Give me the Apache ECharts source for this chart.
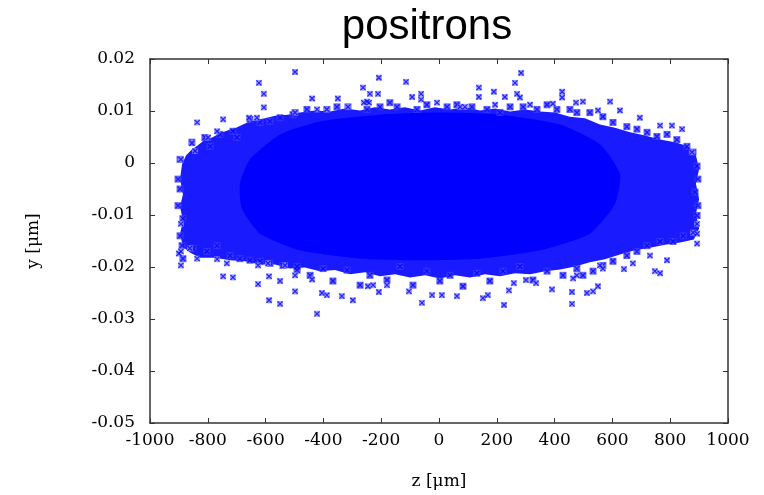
<!DOCTYPE html>
<html><head><meta charset="utf-8">
<script src="https://cdn.jsdelivr.net/npm/echarts@6/dist/echarts.min.js"></script>
<style>html,body{margin:0;padding:0;background:#fff}#c{width:764px;height:495px}</style>
</head><body><div id="c"></div>
<script>
// Axis ranges
const zRange = [-1000, 1000, 200];
const yRange = [-0.05, 0.02, 0.01];

// Outer envelope of the particle cloud (ragged region), [z, y]
const cloudOuter = [
  [-889, -0.0002], [-875, 0.0015], [-855, 0.0026], [-834, 0.0034], [-810, 0.0045],
  [-785, 0.0049], [-758, 0.0057], [-730, 0.0063], [-702, 0.0068], [-671, 0.0076],
  [-637, 0.0082], [-602, 0.0086], [-567, 0.0091], [-523, 0.0093], [-481, 0.0097],
  [-429, 0.0101], [-377, 0.0099], [-325, 0.0105], [-273, 0.0101], [-222, 0.0107],
  [-170, 0.0103], [-118, 0.0107], [-66, 0.0101], [-14, 0.0107], [38, 0.0103],
  [90, 0.0107], [142, 0.0101], [194, 0.0105], [246, 0.0099], [298, 0.0103],
  [349, 0.0099], [401, 0.0097], [453, 0.0089], [505, 0.0086], [557, 0.0074],
  [609, 0.0068], [661, 0.0059], [713, 0.0053], [765, 0.0045], [817, 0.0040],
  [861, 0.0032], [889, 0.0015],
  [900, -0.0012], [889, -0.0040], [900, -0.0069], [889, -0.0098], [900, -0.0126], [882, -0.0147],
  [834, -0.0153], [782, -0.0157], [730, -0.0163], [678, -0.0168], [626, -0.0176],
  [574, -0.0185], [522, -0.0191], [471, -0.0199], [419, -0.0205], [367, -0.0208],
  [315, -0.0214], [263, -0.0212], [211, -0.0218], [159, -0.0214], [107, -0.0220],
  [55, -0.0216], [3, -0.0222], [-48, -0.0216], [-100, -0.0220], [-152, -0.0214],
  [-204, -0.0218], [-256, -0.0210], [-308, -0.0214], [-360, -0.0206], [-412, -0.0208],
  [-464, -0.0201], [-516, -0.0203], [-567, -0.0195], [-619, -0.0195], [-671, -0.0189],
  [-723, -0.0187], [-775, -0.0182], [-827, -0.0182], [-862, -0.0172], [-886, -0.0161],
  [-896, -0.0136], [-886, -0.0111], [-896, -0.0084], [-886, -0.0060], [-896, -0.0031]
];

// Saturated core of the cloud, [z, y]
const cloudCore = [
  [-689, -0.0040], [-654, 0.0007], [-550, 0.0055], [-412, 0.0080], [-204, 0.0093],
  [3, 0.0097], [211, 0.0093], [419, 0.0074], [557, 0.0036], [626, -0.0021],
  [609, -0.0079], [522, -0.0136], [349, -0.0168], [142, -0.0184], [-66, -0.0187],
  [-273, -0.0184], [-481, -0.0168], [-619, -0.0136], [-682, -0.0088]
];

// Isolated particles around the cloud, [z, y]
const particles = [
  [-498, 0.0175], [-623, 0.0154], [-606, 0.0133], [-606, 0.0107], [-439, 0.0124],
  [-350, 0.0124], [-208, 0.0164], [-114, 0.0156], [-263, 0.0145], [-239, 0.0133],
  [-211, 0.0133], [-249, 0.0118], [-62, 0.0133], [-62, 0.0122], [-93, 0.0127],
  [-837, 0.0078], [-747, 0.0084], [-799, 0.0049], [-855, 0.0038], [-893, 0.0007],
  [-844, 0.0023], [-657, 0.0087], [-630, 0.0087], [-498, 0.0097], [-422, 0.0103],
  [-388, 0.0103], [-768, 0.0061], [-260, 0.0116], [-242, 0.0116], [-315, 0.0108],
  [-7, 0.0116], [73, 0.0108], [90, 0.0108], [194, 0.0112], [315, 0.0112],
  [394, 0.0114], [474, 0.0116], [284, 0.0173], [263, 0.0154], [138, 0.0145],
  [138, 0.0127], [190, 0.0137], [426, 0.0137], [426, 0.0126], [592, 0.0118],
  [498, 0.0118], [626, 0.0101], [695, 0.0087], [550, 0.0101], [228, 0.0127],
  [270, 0.0133], [280, 0.0126], [765, 0.0072], [806, 0.0072], [841, 0.0065],
  [875, 0.0021],
  [893, -0.0117], [893, -0.0136], [893, -0.0155], [879, -0.0134],
  [789, -0.0187], [747, -0.0208], [765, -0.0212], [640, -0.0204], [671, -0.0193],
  [730, -0.0178], [550, -0.0237], [533, -0.0247], [512, -0.0250], [460, -0.0271],
  [460, -0.0248], [464, -0.0222], [477, -0.0216], [557, -0.0197], [567, -0.0203],
  [391, -0.0243], [336, -0.0231], [301, -0.0225], [259, -0.0231], [242, -0.0245],
  [225, -0.0273], [152, -0.0260], [169, -0.0254], [62, -0.0256], [-24, -0.0254],
  [10, -0.0254], [-59, -0.0269], [-104, -0.0247], [-180, -0.0235], [-208, -0.0248],
  [-246, -0.0237], [-228, -0.0235], [-298, -0.0264], [-336, -0.0256], [-405, -0.0250],
  [-388, -0.0254], [-422, -0.0290], [-439, -0.0224], [-498, -0.0216], [-498, -0.0247],
  [-550, -0.0227], [-588, -0.0218], [-588, -0.0264], [-550, -0.0271], [-626, -0.0233],
  [-533, -0.0197], [-592, -0.0193], [-626, -0.0197], [-747, -0.0218], [-713, -0.0220],
  [-734, -0.0193], [-768, -0.0185], [-837, -0.0184], [-893, -0.0197], [-900, -0.0174],
  [-862, -0.0164], [-893, -0.0117], [-893, -0.0170]
];

// Dense particles along the ragged edge of the cloud, [z, y]
const edgeParticles = [
  [-498, 0.0097], [-457, 0.0103], [-388, 0.0103], [-353, 0.0108], [-315, 0.0108],
  [-249, 0.0103], [-204, 0.0108], [-170, 0.0116], [-145, 0.0108], [-76, 0.0103],
  [-42, 0.0112], [28, 0.0108], [62, 0.0112], [114, 0.0108], [166, 0.0103],
  [211, 0.0097], [246, 0.0108], [291, 0.0108], [339, 0.0103], [374, 0.0112],
  [408, 0.0103], [453, 0.0103], [477, 0.0097],
  [-491, -0.0199], [-446, -0.0216], [-401, -0.0203], [-367, -0.0227], [-318, -0.0206],
  [-273, -0.0235], [-239, -0.0216], [-180, -0.0225], [-135, -0.0199], [-90, -0.0235],
  [-42, -0.0208], [3, -0.0227], [38, -0.0216], [83, -0.0237], [131, -0.0212],
  [176, -0.0227], [221, -0.0208], [280, -0.0199], [325, -0.0225], [374, -0.0208],
  [429, -0.0216], [477, -0.0203],
  [-896, 0.0007], [-903, -0.0031], [-896, -0.0050], [-903, -0.0082], [-886, -0.0107],
  [-896, -0.0140], [-889, -0.0159], [-855, 0.0040], [-810, 0.0049], [-792, 0.0032],
  [-758, 0.0055], [-713, 0.0061], [-699, 0.0049], [-654, 0.0084], [-619, 0.0078],
  [-585, 0.0080], [-550, 0.0087], [-505, 0.0093], [-886, -0.0184], [-851, -0.0164],
  [-803, -0.0170], [-768, -0.0159], [-723, -0.0178], [-689, -0.0184], [-654, -0.0187],
  [-619, -0.0189], [-585, -0.0193], [-540, -0.0197], [-491, -0.0206],
  [893, -0.0006], [896, -0.0031], [886, -0.0056], [896, -0.0082], [893, -0.0101],
  [522, 0.0097], [567, 0.0089], [602, 0.0078], [650, 0.0070], [685, 0.0065],
  [720, 0.0059], [754, 0.0051], [789, 0.0055], [823, 0.0045], [858, 0.0032],
  [879, 0.0021], [845, -0.0140], [810, -0.0151], [765, -0.0151], [720, -0.0159],
  [685, -0.0170], [650, -0.0178], [602, -0.0189], [567, -0.0197], [533, -0.0208],
  [498, -0.0216]
];

const serif = 'DejaVu Serif';
const axisColor = '#333';

function polygonSeries(points, color, smooth) {
  return {
    type: 'custom',
    coordinateSystem: 'cartesian2d',
    xAxisIndex: 0, yAxisIndex: 0,
    data: points,
    encode: { x: 0, y: 1 },
    silent: true,
    animation: false,
    clip: true,
    renderItem: function (params, api) {
      if (params.dataIndexInside !== 0) return null;
      const pts = points.map(function (p) { return api.coord(p); });
      return { type: 'polygon', shape: { points: pts, smooth: smooth }, style: { fill: color } };
    }
  };
}

function particleSeries(points, size, fill) {
  return [{
    type: 'scatter', data: points, symbol: 'rect', symbolSize: size,
    itemStyle: { color: fill }, silent: true, animation: false
  }, {
    type: 'scatter', data: points, symbol: 'path://M0,0L10,10M10,0L0,10', symbolSize: 5,
    itemStyle: { color: 'none', borderColor: '#0000ff', borderWidth: 1.2 }, silent: true, animation: false
  }];
}

function fmtY(v) { return String(Math.round(v * 100) / 100); }
function fmtZ(v) { return String(v); }

const chart = echarts.init(document.getElementById('c'), null, { renderer: 'canvas' });
chart.setOption({
  backgroundColor: '#fff',
  animation: false,
  title: {
    text: 'positrons',
    left: 422, top: 1, textAlign: 'center',
    textStyle: { fontFamily: 'Liberation Sans', fontSize: 42, fontWeight: 'normal', color: '#000' }
  },
  grid: { left: 150, right: 36, top: 59, bottom: 70 },
  xAxis: [{
    type: 'value', min: zRange[0], max: zRange[1], interval: zRange[2], position: 'bottom',
    axisLine: { show: true, onZero: false, lineStyle: { color: axisColor, width: 1.5 } },
    axisTick: { show: true, inside: true, length: 5, lineStyle: { color: axisColor } },
    axisLabel: { fontFamily: serif, fontSize: 17, color: '#000', margin: 9, formatter: fmtZ },
    splitLine: { show: false },
    name: 'z [μm]', nameLocation: 'middle', nameGap: 50,
    nameTextStyle: { fontFamily: serif, fontSize: 17, color: '#000' }
  }, {
    type: 'value', min: zRange[0], max: zRange[1], interval: zRange[2], position: 'top',
    axisLine: { show: true, onZero: false, lineStyle: { color: axisColor, width: 1.5 } },
    axisTick: { show: true, inside: true, length: 5, lineStyle: { color: axisColor } },
    axisLabel: { show: false }, splitLine: { show: false }
  }],
  yAxis: [{
    type: 'value', min: yRange[0], max: yRange[1], interval: yRange[2], position: 'left',
    axisLine: { show: true, onZero: false, lineStyle: { color: axisColor, width: 1.5 } },
    axisTick: { show: true, inside: true, length: 5, lineStyle: { color: axisColor } },
    axisLabel: { fontFamily: serif, fontSize: 17, color: '#000', margin: 15, formatter: fmtY },
    splitLine: { show: false },
    name: 'y [μm]', nameLocation: 'middle', nameGap: 108, nameRotate: 90,
    nameTextStyle: { fontFamily: serif, fontSize: 17, color: '#000' }
  }, {
    type: 'value', min: yRange[0], max: yRange[1], interval: yRange[2], position: 'right',
    axisLine: { show: true, onZero: false, lineStyle: { color: axisColor, width: 1.5 } },
    axisTick: { show: true, inside: true, length: 5, lineStyle: { color: axisColor } },
    axisLabel: { show: false }, splitLine: { show: false }
  }],
  series: [
    polygonSeries(cloudOuter, '#1a1aff', 0),
    polygonSeries(cloudCore, '#0000ff', 0.2)
  ].concat(particleSeries(edgeParticles, 7, '#3b3bff'), particleSeries(particles, 6, '#8c8cff'))
});
</script>
</body></html>
